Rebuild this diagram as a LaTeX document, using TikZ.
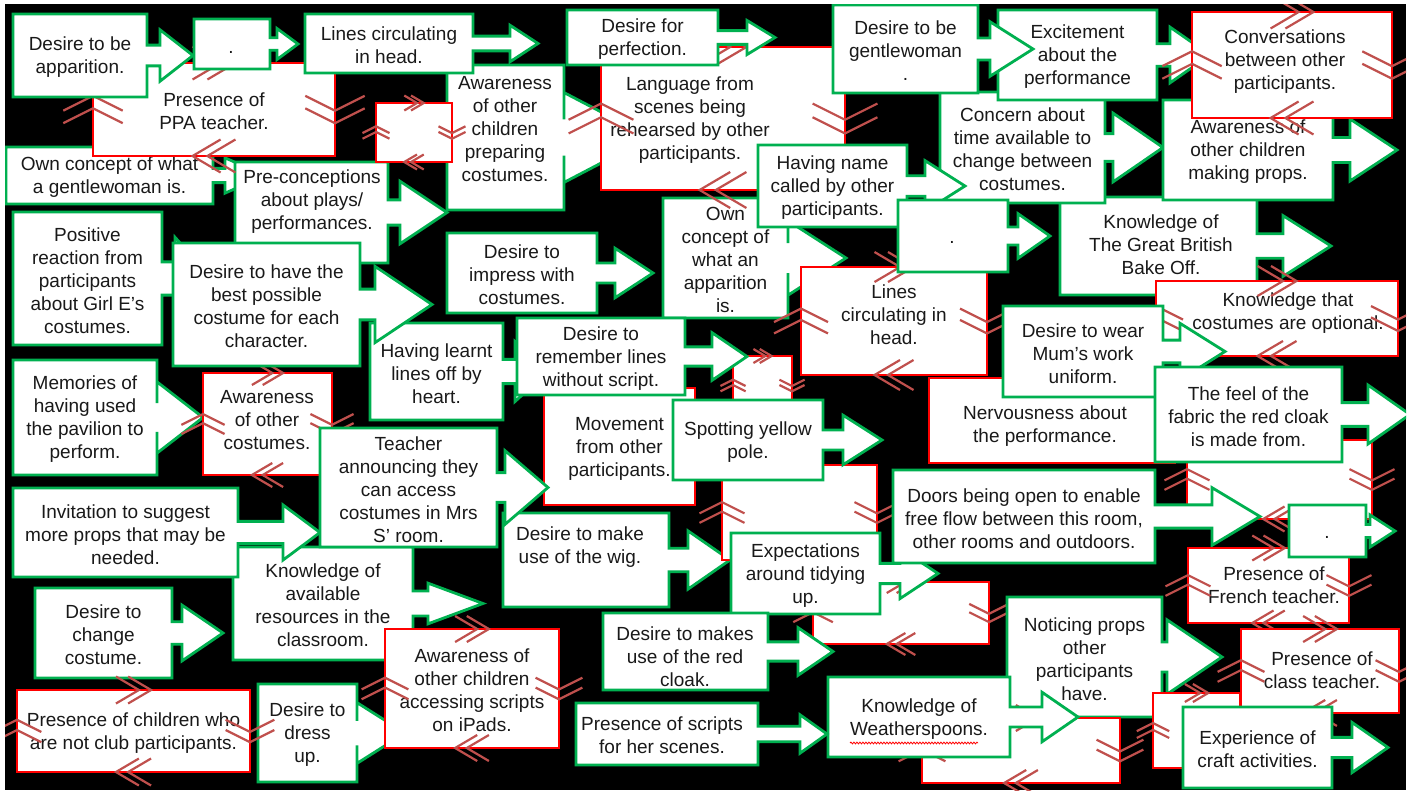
\documentclass[tikz,border=0pt]{standalone}
\usepackage{fontspec}
\setmainfont{Liberation Sans}
\usetikzlibrary{decorations.pathmorphing}

\definecolor{pgreen}{RGB}{0,176,80}
\definecolor{pred}{RGB}{255,0,0}
\definecolor{chevred}{RGB}{192,80,77}
\definecolor{inkgray}{RGB}{25,25,25}

\tikzset{
  greenbox/.style={draw=pgreen, fill=white, line width=2.8pt, line join=miter},
  redbox/.style={draw=pred, fill=white, line width=2.8pt},
  lbl/.style={align=center, text=inkgray, font=\fontsize{19}{23}\selectfont, inner sep=0pt, yshift=-2pt},
  chev/.style={draw=chevred, line width=2.2pt},
}

% proportions of the arrow stem and head against the body height
\newcommand\headfrac{0.31}
\newcommand\stemfrac{0.125}

% callout: [node options]{x0}{y0}{x1}{y1}{head base x}{tip x}{name}{text}
\newcommand\callout[9][]{%
  \pgfmathsetmacro\cy{(#3+#5)/2}%
  \pgfmathsetmacro\cx{(#2+#4)/2}%
  \pgfmathsetmacro\hh{\headfrac*(#5-#3)}%
  \pgfmathsetmacro\ss{\stemfrac*(#5-#3)}%
  \path[greenbox] (#2,#3) -- (#4,#3) -- (#4,\cy-\ss) -- (#6,\cy-\ss) -- (#6,\cy-\hh)
    -- (#7,\cy) -- (#6,\cy+\hh) -- (#6,\cy+\ss) -- (#4,\cy+\ss) -- (#4,#5) -- (#2,#5) -- cycle;
  \node[lbl, at={(\cx,\cy)}, #1] (#8) {#9};
}

% double chevron centred on an edge: {x}{y}{direction angle}{arm depth}{arm spread}{gap}
\newcommand\chevpair[6]{%
  \begin{scope}[shift={(#1,#2)}, rotate=#3]
    \pgfmathsetmacro\chb{#4}%
    \pgfmathsetmacro\chp{#5}%
    \pgfmathsetmacro\chg{#6}%
    \draw[chev] (\chb/2+\chg/2-\chb,\chp) -- (\chb/2+\chg/2,0) -- (\chb/2+\chg/2-\chb,-\chp);
    \draw[chev] (\chb/2-\chg/2-\chb,\chp) -- (\chb/2-\chg/2,0) -- (\chb/2-\chg/2-\chb,-\chp);
  \end{scope}}

% red box: [node options]{x0}{y0}{x1}{y1}{chevron size, 0 for none}{name}{text}
% the chevrons run clockwise round the box: right on top, down on the right,
% left along the bottom and up on the left
\newcommand\rbox[8][]{%
  \path[redbox] (#2,#3) rectangle (#4,#5);
  \pgfmathsetmacro\cx{(#2+#4)/2}%
  \pgfmathsetmacro\cy{(#3+#5)/2}%
  \node[lbl, at={(\cx,\cy)}, #1] (#7) {#8};
  \ifdim #6pt>0pt
    \pgfmathsetmacro\hb{0.85*#6}\pgfmathsetmacro\hp{0.5*#6}\pgfmathsetmacro\hg{0.45*#6}%
    \pgfmathsetmacro\vb{0.45*#6}\pgfmathsetmacro\vp{0.9*#6}\pgfmathsetmacro\vg{0.38*#6}%
    \chevpair{\cx}{#3}{0}{\hb}{\hp}{\hg}
    \chevpair{#4}{\cy}{-90}{\vb}{\vp}{\vg}
    \chevpair{\cx}{#5}{180}{\hb}{\hp}{\hg}
    \chevpair{#2}{\cy}{90}{\vb}{\vp}{\vg}
  \fi
}

\begin{document}
\begin{tikzpicture}[x=1pt,y=-1pt]
\useasboundingbox (0,0) rectangle (1413,790);
\fill[white] (0,0) rectangle (1413,790);
\fill[black] (5,4) rectangle (1406,790);

\begin{scope}
\clip (5,4) rectangle (1406,790);

% top left
\callout{6}{147}{213}{204}{225}{265}{ownGentle}{Own concept of what\\a gentlewoman is.}
\callout[at={(312,200)}]{235}{162}{388}{263}{400}{447}{preconc}{Pre-conceptions\\about plays/\\performances.}
\rbox{93}{63}{335}{156}{33}{ppa}{Presence of\\PPA teacher.}
\callout{13}{14}{147}{97}{160}{193}{beApparition}{Desire to be\\apparition.}
\callout[at={(231,50)}]{194}{19}{270}{69}{277}{298}{dotA}{.}
\callout[at={(505,127)}]{447}{65}{564}{210}{564}{650}{awarePrep}{Awareness\\of other\\children\\preparing\\costumes.}
\callout{305}{14}{473}{73}{510}{538}{linesTop}{Lines circulating\\in head.}
\rbox{376}{103}{452}{162}{15}{smallA}{}

% left middle
\callout{13}{212}{162}{345}{175}{212}{positive}{Positive\\reaction from\\participants\\about Girl E’s\\costumes.}
\callout{370}{323}{503}{420}{515}{548}{learnt}{Having learnt\\lines off by\\heart.}
\callout{13}{360}{157}{475}{157}{203}{memories}{Memories of\\having used\\the pavilion to\\perform.}
\rbox[at={(267,418)}]{203}{373}{332}{475}{24}{otherCost}{Awareness\\of other\\costumes.}
\callout{173}{243}{360}{366}{375}{432}{bestCost}{Desire to have the\\best possible\\costume for each\\character.}
\callout{447}{233}{597}{313}{615}{653}{impress}{Desire to\\impress with\\costumes.}
\callout{663}{198}{788}{318}{788}{846}{ownApparition}{Own\\concept of\\what an\\apparition\\is.}

% top centre and right
\rbox[at={(690,118)}]{601}{47}{845}{190}{36}{language}{Language from\\scenes being\\rehearsed by other\\participants.}
\callout{567}{10}{718}{65}{747}{775}{perfection}{Desire for\\perfection.}
\callout[at={(1161,243)}]{1060}{197}{1257}{295}{1283}{1331}{bakeOff}{Knowledge of\\The Great British\\Bake Off.}
\callout{940}{92}{1105}{203}{1113}{1163}{concern}{Concern about\\time available to\\change between\\costumes.}
\callout{758}{145}{907}{227}{925}{965}{nameCalled}{Having name\\called by other\\participants.}
\callout{998}{10}{1157}{100}{1170}{1210}{excitement}{Excitement\\about the\\performance}
\callout{833}{5}{978}{93}{990}{1033}{beGentle}{Desire to be\\gentlewoman\\.}
\callout{1163}{100}{1333}{200}{1350}{1397}{awareProps}{Awareness of\\other children\\making props.}
\rbox[at={(1285,60)}]{1192}{12}{1392}{118}{33}{conversations}{Conversations\\between other\\participants.}
\rbox[at={(894,313)}]{801}{267}{987}{375}{30}{linesMid}{Lines\\circulating in\\head.}
\callout[at={(952,240)}]{898}{200}{1008}{272}{1018}{1050}{dotB}{.}
\rbox[at={(1288,311)}]{1156}{281}{1398}{356}{30}{optional}{Knowledge that\\costumes are optional.}
\rbox[at={(1045,424)}]{929}{378}{1175}{463}{0}{nervous}{Nervousness about\\the performance.}
\callout{1003}{306}{1163}{397}{1180}{1225}{mumUniform}{Desire to wear\\Mum’s work\\uniform.}
\rbox{1187}{440}{1372}{519}{25}{blankC}{}
\callout{1155}{367}{1342}{462}{1368}{1410}{fabric}{The feel of the\\fabric the red cloak\\is made from.}

% centre
\rbox{544}{388}{695}{505}{0}{movement}{Movement\\from other\\participants.}
\rbox{733}{356}{792}{415}{14}{smallB}{}
\callout{517}{318}{685}{395}{712}{747}{remember}{Desire to\\remember lines\\without script.}
\callout[at={(580,545)}]{503}{513}{669}{607}{688}{730}{wig}{Desire to make\\use of the wig.}
\rbox{722}{465}{877}{560}{25}{blankD}{}
\callout{673}{400}{823}{480}{843}{882}{yellowPole}{Spotting yellow\\pole.}
\rbox{813}{582}{989}{644}{22}{blankE}{}
\callout{731}{533}{880}{614}{900}{938}{tidying}{Expectations\\around tidying\\up.}
\callout[at={(685,655)}]{603}{613}{768}{690}{798}{833}{redCloak}{Desire to makes\\use of the red\\cloak.}

% bottom right
\callout{893}{470}{1155}{563}{1212}{1260}{doors}{Doors being open to enable\\free flow between this room,\\other rooms and outdoors.}
\rbox[at={(1274,583)}]{1188}{548}{1349}{623}{25}{french}{Presence of\\French teacher.}
\callout[at={(1327,535)}]{1289}{505}{1366}{557}{1370}{1395}{dotC}{.}
\callout{1007}{597}{1162}{717}{1167}{1222}{noticing}{Noticing props\\other\\participants\\have.}
\rbox[at={(1322,668)}]{1241}{629}{1399}{713}{26}{classTeacher}{Presence of\\class teacher.}
\rbox{1153}{693}{1240}{768}{18}{blankF}{}
\rbox{922}{718}{1120}{783}{26}{blankG}{}
\callout{828}{677}{1010}{757}{1042}{1078}{weatherspoons}{Knowledge of\\Weatherspoons.}
\draw[pred, line width=0.8pt, decorate, decoration={snake, amplitude=0.9pt, segment length=3pt}]
  (850,743) -- (978,743);
\callout{1183}{707}{1332}{788}{1352}{1388}{craft}{Experience of\\craft activities.}

% bottom left
\renewcommand\headfrac{0.18}\renewcommand\stemfrac{0.11}
\callout{233}{547}{413}{660}{428}{483}{resources}{Knowledge of\\available\\resources in the\\classroom.}
\renewcommand\headfrac{0.31}\renewcommand\stemfrac{0.125}
\callout{13}{488}{238}{577}{283}{320}{invitation}{Invitation to suggest\\more props that may be\\needed.}
\callout{320}{428}{497}{547}{505}{548}{teacher}{Teacher\\announcing they\\can access\\costumes in Mrs\\S’ room.}
\callout{35}{588}{172}{678}{182}{223}{changeCost}{Desire to\\change\\costume.}
\callout{258}{684}{357}{782}{357}{405}{dressUp}{Desire to\\dress\\up.}
\rbox{385}{629}{559}{748}{26}{ipads}{Awareness of\\other children\\accessing scripts\\on iPads.}
\rbox{17}{690}{250}{772}{27}{notMembers}{Presence of children who\\are not club participants.}
\callout[at={(662,733)}]{576}{703}{758}{765}{800}{827}{scripts}{Presence of scripts\\for her scenes.}
\end{scope}
\end{tikzpicture}
\end{document}
